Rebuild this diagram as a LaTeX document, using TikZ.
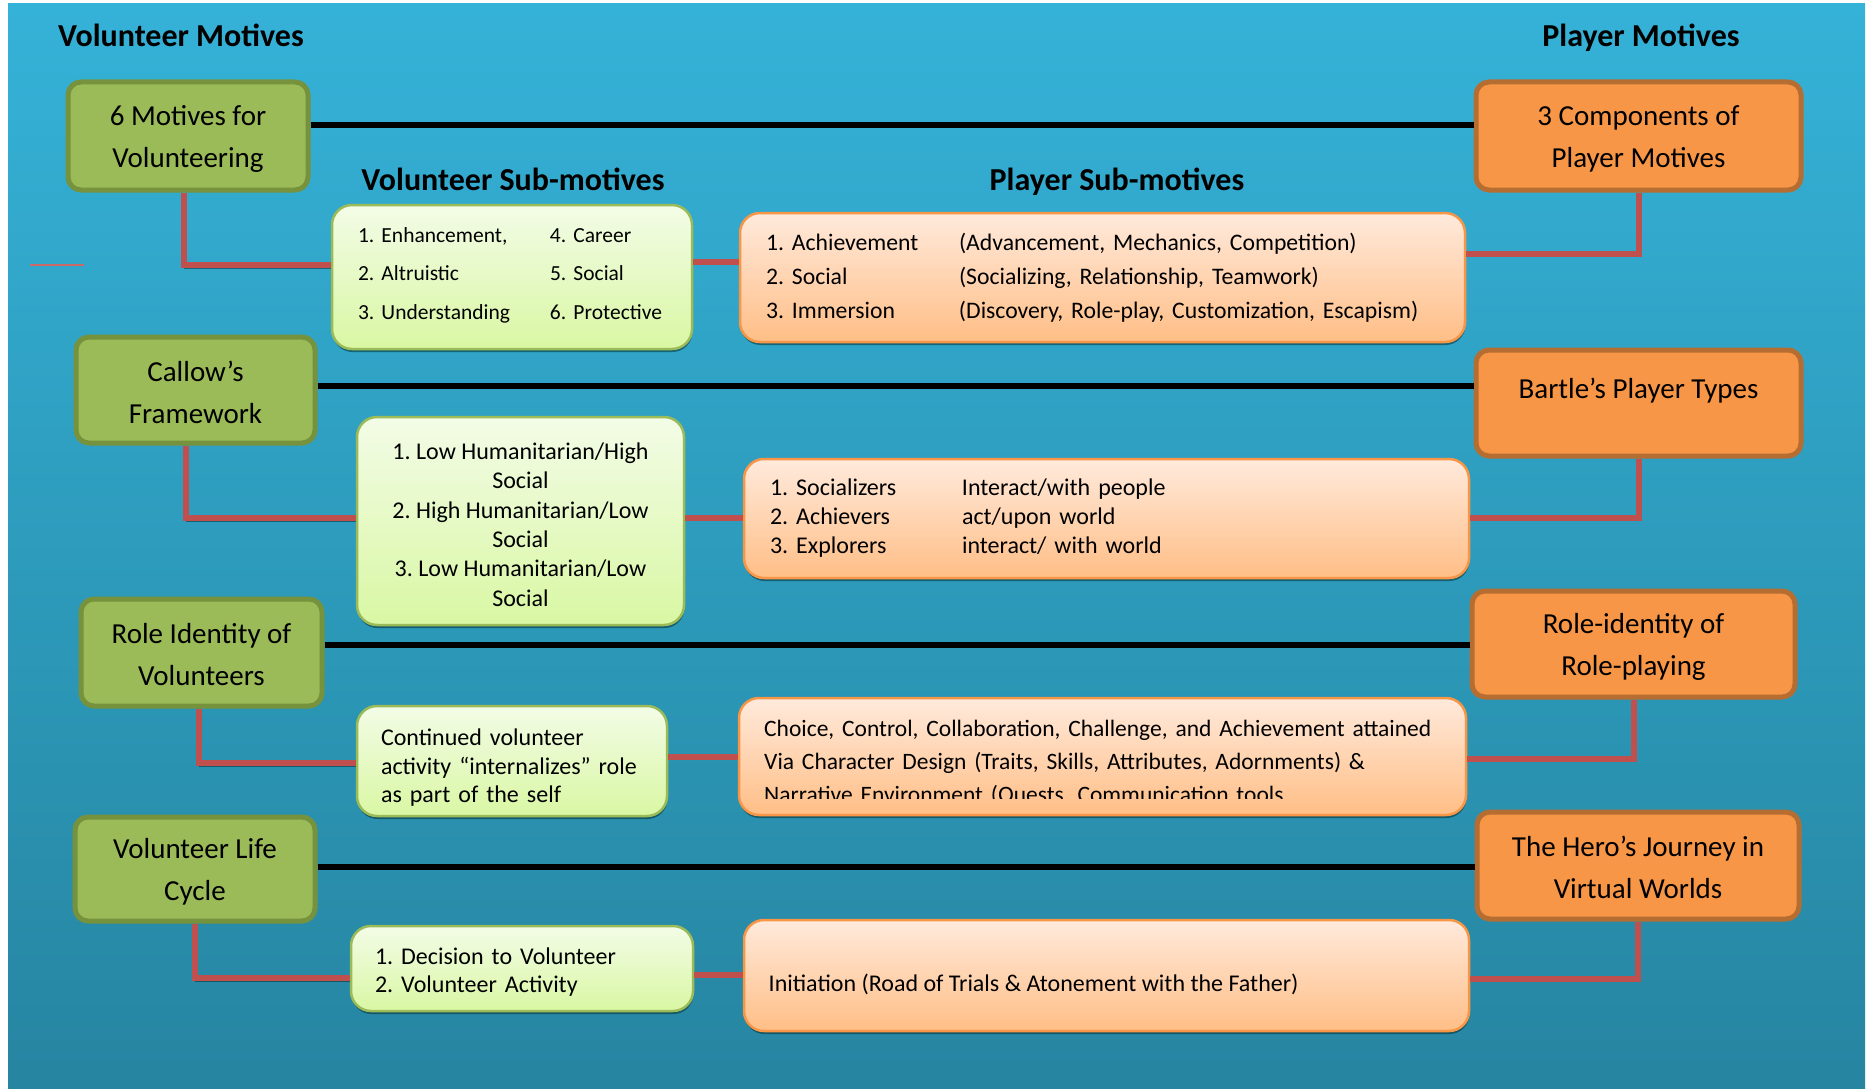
\documentclass[tikz,border=0pt]{standalone}
\usepackage{fontspec}
\setmainfont{Carlito}
\usetikzlibrary{shadows}

\definecolor{bgtop}{HTML}{35B2D8}
\definecolor{bgbot}{HTML}{2685A1}
\definecolor{volgreen}{HTML}{9BBB59}
\definecolor{volline}{HTML}{76923C}
\definecolor{plyorange}{HTML}{F79646}
\definecolor{plyline}{HTML}{B66D31}
\definecolor{lgtop}{HTML}{F3FCE7}
\definecolor{lgbot}{HTML}{D9F7A3}
\definecolor{lotop}{HTML}{FFEADC}
\definecolor{lobot}{HTML}{FFBE86}
\definecolor{linkred}{HTML}{C0504D}

\tikzset{
  motive/.style={draw, rounded corners=13pt, line width=5pt, align=center, inner sep=0pt,
    font=\fontsize{29}{42}\selectfont},
  volmotive/.style={motive, fill=volgreen, draw=volline},
  plymotive/.style={motive, fill=plyorange, draw=plyline},
  subbox/.style={draw, rounded corners=20pt, line width=2.5pt,
    drop shadow={shadow xshift=0.5pt, shadow yshift=-3pt, fill=black!70!teal, opacity=0.5}},
  volsub/.style={subbox, draw=volgreen, top color=lgtop, bottom color=lgbot},
  plysub/.style={subbox, draw=plyorange, top color=lotop, bottom color=lobot},
  heading/.style={anchor=base, font=\fontsize{32}{38}\selectfont\bfseries},
  tie/.style={line width=6pt},
  link/.style={draw=linkred, line width=6pt},
  shadowlink/.style={link, preaction={draw=black!70!teal, opacity=0.5, transform canvas={yshift=-3pt}}},
}

\begin{document}
\frenchspacing
\begin{tikzpicture}[x=1pt, y=-1pt]
  \fill[white] (0,0) rectangle (1868,1089);
  \useasboundingbox (0,0) rectangle (1868,1089);
  \shade[top color=bgtop, bottom color=bgbot] (8,4) rectangle (1865,1088);

  \node[heading] (volhead) at (181,47) {Volunteer Motives};
  \node[heading] (plyhead) at (1641,47) {Player Motives};
  \node[heading] (volsubhead) at (513,190) {Volunteer Sub-motives};
  \node[heading] (plysubhead) at (1117,190) {Player Sub-motives};

  \node[volmotive, minimum width=240pt, minimum height=108pt] (vmot1) at (188,136) {\rule{0pt}{25pt}6 Motives for\\Volunteering};
  \node[volmotive, minimum width=239pt, minimum height=106pt] (vmot2) at (195.5,390) {\rule{0pt}{25pt}Callow’s\\Framework};
  \node[volmotive, minimum width=241pt, minimum height=107pt] (vmot3) at (201.5,652.5) {\rule{0pt}{25pt}Role Identity of\\Volunteers};
  \node[volmotive, minimum width=240pt, minimum height=104pt] (vmot4) at (195,869) {\rule{0pt}{25pt}Volunteer Life\\Cycle};

  \node[plymotive, minimum width=325pt, minimum height=108pt] (pmot1) at (1638.5,136) {\rule{0pt}{25pt}3 Components of\\Player Motives};
  \node[plymotive, minimum width=325pt, minimum height=106pt] (pmot2) at (1638.5,403) {Bartle’s Player Types\\[-13pt]\mbox{}};
  \node[plymotive, minimum width=323pt, minimum height=106pt] (pmot3) at (1633.5,644) {\rule{0pt}{25pt}Role-identity of\\Role-playing};
  \node[plymotive, minimum width=322pt, minimum height=107pt] (pmot4) at (1638,865.5) {\rule{0pt}{25pt}The Hero’s Journey in\\Virtual Worlds};

  \node[volsub, minimum width=360pt, minimum height=144pt, inner xsep=26pt, text width=308pt, align=left,
    font=\fontsize{21.5}{38.5}\selectfont] (vsub1) at (512,277)
    {\begin{tabular}{@{}p{192pt}@{}l@{}}
      1. Enhancement, & 4. Career\\
      2. Altruistic & 5. Social\\
      3. Understanding & 6. Protective\\[8pt]
    \end{tabular}};
  \node[volsub, minimum width=327pt, minimum height=208pt, align=center,
    font=\fontsize{24}{29.3}\selectfont] (vsub2) at (520.5,521)
    {\rule{0pt}{24pt}1. Low Humanitarian/High\\Social\\2. High Humanitarian/Low\\Social\\3. Low Humanitarian/Low\\Social};
  \node[volsub, minimum width=310pt, minimum height=110pt, inner xsep=24pt, text width=262pt, align=left,
    font=\fontsize{24}{28.5}\selectfont] (vsub3) at (512,761)
    {\rule{0pt}{30pt}Continued volunteer\\activity “internalizes” role\\as part of the self};
  \node[volsub, minimum width=342pt, minimum height=85pt, inner xsep=24pt, text width=294pt, align=left,
    font=\fontsize{24}{28}\selectfont] (vsub4) at (522,968.5)
    {\rule{0pt}{24pt}1. Decision to Volunteer\\2. Volunteer Activity};

  \node[plysub, minimum width=725pt, minimum height=129pt, inner xsep=26pt, text width=673pt, align=left,
    font=\fontsize{23.7}{34}\selectfont] (psub1) at (1102.5,277.5)
    {\begin{tabular}{@{}p{193pt}@{}l@{}}
      1. Achievement & (Advancement, Mechanics, Competition)\\
      2. Social & (Socializing, Relationship, Teamwork)\\
      3. Immersion & (Discovery, Role-play, Customization, Escapism)
    \end{tabular}};
  \node[plysub, minimum width=725pt, minimum height=119pt, inner xsep=26pt, text width=673pt, align=left,
    font=\fontsize{24}{29}\selectfont] (psub2) at (1106.5,518.5)
    {\begin{tabular}{@{}p{192pt}@{}l@{}}
      1. Socializers & Interact/with people\\
      2. Achievers & act/upon world\\
      3. Explorers & interact/ with world
    \end{tabular}};
  \node[plysub, minimum width=727pt, minimum height=117pt] (psub3) at (1102.5,756.5) {};
  \begin{scope}
    \clip (738,690) rectangle (1467,798);
    \node[anchor=base west, inner sep=0pt, text width=690pt, align=left,
      font=\fontsize{23.5}{33}\selectfont] (psub3txt) at (764,736)
      {Choice, Control, Collaboration, Challenge, and Achievement attained\\
       Via Character Design (Traits, Skills, Attributes, Adornments) \&\\
       Narrative Environment (Quests, Communication tools};
  \end{scope}
  \node[plysub, minimum width=725pt, minimum height=111pt] (psub4) at (1106.5,975.5) {};
  \node[anchor=base west, inner sep=0pt, font=\fontsize{24}{29}\selectfont] (psub4txt) at (768.5,991.5)
    {Initiation (Road of Trials \& Atonement with the Father)};

  \draw[tie] (vmot1.east |- 0,125) -- (pmot1.west |- 0,125);
  \draw[tie] (vmot2.east |- 0,386) -- (pmot2.west |- 0,386);
  \draw[tie] (vmot3.east |- 0,645) -- (pmot3.west |- 0,645);
  \draw[tie] (vmot4.east |- 0,867) -- (pmot4.west |- 0,867);

  \draw[shadowlink] ([xshift=-4pt]vmot1.south) |- ([yshift=12pt]vsub1.west);
  \draw[shadowlink] ([xshift=-9.5pt]vmot2.south) |- ([yshift=3pt]vsub2.west);
  \draw[shadowlink] ([xshift=-2.5pt]vmot3.south) |- ([yshift=-2pt]vsub3.west);
  \draw[shadowlink] (vmot4.south) |- ([yshift=-9.5pt]vsub4.west);

  \draw[link] (vsub1.east |- 0,262) -- (psub1.west |- 0,262);
  \draw[link] (vsub2.east |- 0,518) -- (psub2.west |- 0,518);
  \draw[link] (vsub3.east |- 0,757) -- (psub3.west |- 0,757);
  \draw[link] (vsub4.east |- 0,975) -- (psub4.west |- 0,975);

  \draw[link] (psub1.east |- 0,254) -| (pmot1.south);
  \draw[link] (psub2.east |- 0,518) -| (pmot2.south);
  \draw[link] (psub3.east |- 0,759) -| (pmot3.south);
  \draw[link] (psub4.east |- 0,979) -| (pmot4.south);

  \draw[linkred!85!white, line width=2.5pt] (30,265) -- (84,265);
\end{tikzpicture}
\end{document}
